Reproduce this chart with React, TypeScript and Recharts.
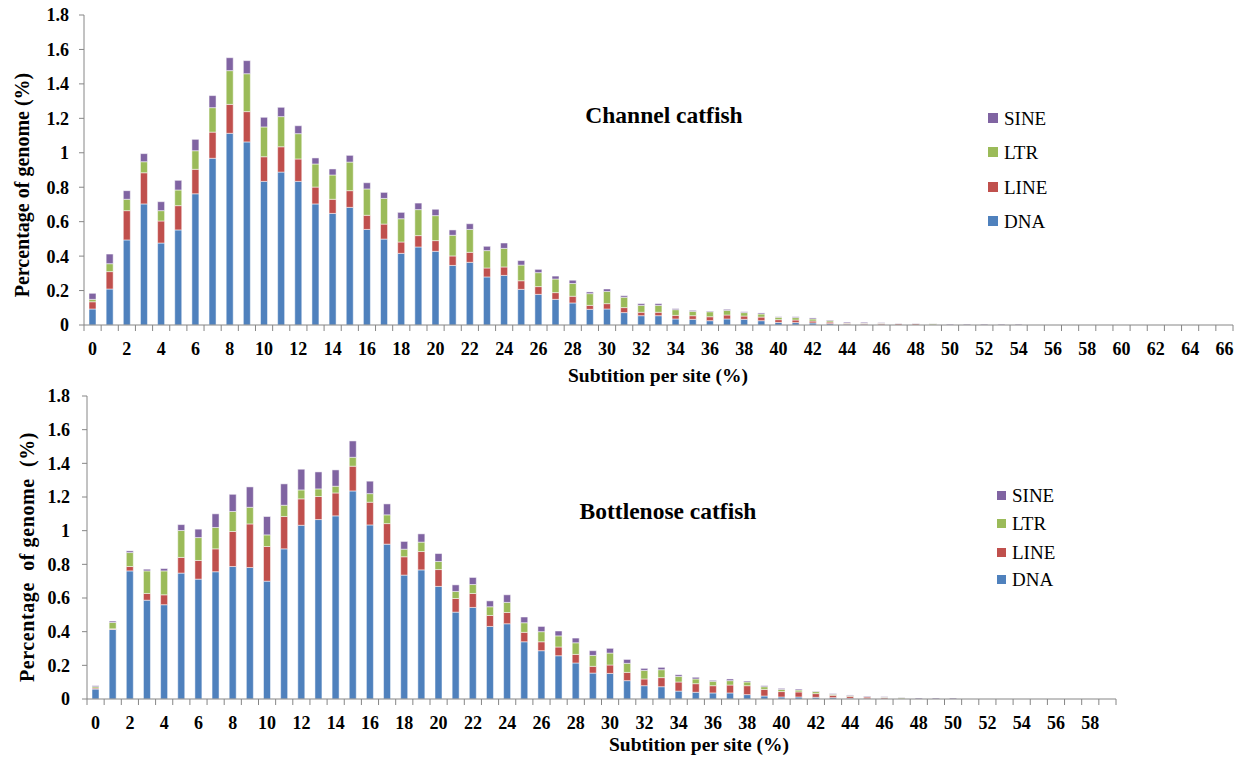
import React from 'react';
import { BarChart, Bar, XAxis, YAxis } from 'recharts';

// ---------- Data ----------
const seriesNames = ['SINE', 'LTR', 'LINE', 'DNA'];
const yTicks = [0, 0.2, 0.4, 0.6, 0.8, 1, 1.2, 1.4, 1.6, 1.8];

// Channel catfish (categories 0..66)
const channelDNA = [
  0.093, 0.209, 0.494, 0.703, 0.476, 0.552, 0.762, 0.968, 1.113, 1.063,
  0.834, 0.888, 0.834, 0.703, 0.648, 0.683, 0.555, 0.499, 0.416, 0.453,
  0.428, 0.346, 0.364, 0.279, 0.288, 0.207, 0.178, 0.149, 0.128, 0.091,
  0.093, 0.072, 0.054, 0.054, 0.035, 0.033, 0.025, 0.035, 0.033, 0.025,
  0.015, 0.014, 0.012, 0.008, 0.004, 0.003, 0.002, 0, 0, 0,
  0, 0, 0, 0, 0, 0, 0, 0, 0, 0, 0, 0, 0, 0, 0, 0, 0,
];
const channelLINE = [
  0.042, 0.101, 0.170, 0.181, 0.128, 0.141, 0.142, 0.152, 0.168, 0.176,
  0.143, 0.147, 0.130, 0.098, 0.082, 0.097, 0.082, 0.087, 0.066, 0.066,
  0.062, 0.055, 0.058, 0.052, 0.049, 0.050, 0.045, 0.039, 0.039, 0.023,
  0.031, 0.029, 0.020, 0.020, 0.021, 0.021, 0.023, 0.023, 0.019, 0.021,
  0.016, 0.015, 0.011, 0.009, 0.006, 0.006, 0.007, 0.007, 0.007, 0.002,
  0, 0, 0, 0, 0, 0, 0, 0, 0, 0, 0, 0, 0, 0, 0, 0, 0,
];
const channelLTR = [
  0.014, 0.046, 0.066, 0.064, 0.060, 0.091, 0.108, 0.142, 0.196, 0.220,
  0.173, 0.175, 0.147, 0.134, 0.141, 0.166, 0.153, 0.149, 0.135, 0.151,
  0.145, 0.120, 0.133, 0.101, 0.108, 0.091, 0.081, 0.079, 0.074, 0.068,
  0.071, 0.060, 0.040, 0.040, 0.033, 0.025, 0.029, 0.027, 0.020, 0.018,
  0.014, 0.014, 0.012, 0.008, 0.002, 0.002, 0.002, 0.001, 0.001, 0.006,
  0, 0, 0, 0, 0, 0, 0, 0, 0, 0, 0, 0, 0, 0, 0, 0, 0,
];
const channelSINE = [
  0.035, 0.056, 0.050, 0.047, 0.052, 0.056, 0.066, 0.070, 0.075, 0.076,
  0.056, 0.054, 0.046, 0.035, 0.035, 0.039, 0.036, 0.035, 0.037, 0.038,
  0.037, 0.031, 0.033, 0.025, 0.031, 0.026, 0.019, 0.017, 0.019, 0.010,
  0.014, 0.009, 0.010, 0.010, 0.006, 0.006, 0.004, 0.006, 0.005, 0.006,
  0.003, 0.005, 0.006, 0.004, 0.005, 0.005, 0.003, 0.002, 0.002, 0.001,
  0.004, 0.004, 0.004, 0.004, 0.004, 0, 0, 0, 0, 0, 0, 0, 0, 0, 0, 0, 0,
];

// Bottlenose catfish (categories 0..59)
const bottleDNA = [
  0.059, 0.413, 0.761, 0.587, 0.560, 0.748, 0.712, 0.756, 0.787, 0.781,
  0.700, 0.892, 1.032, 1.066, 1.088, 1.236, 1.034, 0.920, 0.736, 0.767,
  0.669, 0.516, 0.544, 0.431, 0.447, 0.340, 0.287, 0.257, 0.214, 0.154,
  0.152, 0.109, 0.079, 0.073, 0.047, 0.040, 0.036, 0.036, 0.026, 0.018,
  0.012, 0.012, 0.010, 0.008, 0.004, 0.002, 0.001, 0, 0, 0,
  0, 0, 0, 0, 0, 0, 0, 0, 0, 0,
];
const bottleLINE = [
  0.006, 0.004, 0.026, 0.040, 0.059, 0.093, 0.111, 0.136, 0.208, 0.259,
  0.206, 0.192, 0.157, 0.137, 0.136, 0.147, 0.135, 0.122, 0.109, 0.109,
  0.100, 0.081, 0.083, 0.065, 0.067, 0.056, 0.053, 0.052, 0.051, 0.040,
  0.050, 0.049, 0.040, 0.054, 0.054, 0.051, 0.043, 0.047, 0.053, 0.039,
  0.032, 0.030, 0.022, 0.014, 0.012, 0.010, 0.007, 0.002, 0, 0,
  0, 0, 0, 0, 0, 0, 0, 0, 0, 0,
];
const bottleLTR = [
  0.008, 0.038, 0.083, 0.134, 0.142, 0.160, 0.136, 0.127, 0.119, 0.099,
  0.069, 0.067, 0.053, 0.045, 0.040, 0.053, 0.051, 0.052, 0.045, 0.056,
  0.048, 0.042, 0.053, 0.052, 0.060, 0.057, 0.060, 0.066, 0.069, 0.065,
  0.071, 0.054, 0.051, 0.047, 0.033, 0.028, 0.026, 0.026, 0.022, 0.016,
  0.013, 0.011, 0.012, 0.006, 0.004, 0.002, 0.003, 0.006, 0, 0,
  0, 0, 0, 0, 0, 0, 0, 0, 0, 0,
];
const bottleSINE = [
  0.006, 0.008, 0.010, 0.010, 0.014, 0.035, 0.050, 0.081, 0.102, 0.121,
  0.109, 0.127, 0.123, 0.101, 0.097, 0.097, 0.074, 0.065, 0.046, 0.049,
  0.047, 0.039, 0.042, 0.035, 0.045, 0.034, 0.031, 0.029, 0.028, 0.028,
  0.028, 0.023, 0.012, 0.014, 0.010, 0.010, 0.006, 0.010, 0.006, 0.006,
  0.006, 0.006, 0.003, 0.004, 0.004, 0.004, 0.003, 0.002, 0.005, 0.005,
  0.005, 0, 0, 0, 0, 0, 0, 0, 0, 0,
];

const COLORS: Record<string, string> = {
  DNA: '#4F81BD',
  LINE: '#C0504D',
  LTR: '#9BBB59',
  SINE: '#8064A2',
};

const buildRows = (dna: number[], line: number[], ltr: number[], sine: number[]) =>
  dna.map((v, i) => ({ x: i, DNA: v, LINE: line[i], LTR: ltr[i], SINE: sine[i] }));

const channelRows = buildRows(channelDNA, channelLINE, channelLTR, channelSINE);
const bottleRows = buildRows(bottleDNA, bottleLINE, bottleLTR, bottleSINE);

const FONT = '"Liberation Serif", "Times New Roman", serif';
const AXIS_COLOR = '#868686';

const makeXTick = (band: number, count: number) => (props: any) => {
  const { x, y, payload } = props;
  const v = Number(payload.value);
  const left = x - band / 2;
  return (
    <g>
      <line x1={left} y1={y} x2={left} y2={y + 6} stroke={AXIS_COLOR} strokeWidth={1} />
      {v === count - 1 ? (
        <line x1={x + band / 2} y1={y} x2={x + band / 2} y2={y + 6} stroke={AXIS_COLOR} strokeWidth={1} />
      ) : null}
      {v % 2 === 0 ? (
        <text
          x={x}
          y={y + 24}
          dy="0.35em"
          textAnchor="middle"
          fontFamily={FONT}
          fontWeight="bold"
          fontSize={18}
          fill="#000"
        >
          {v}
        </text>
      ) : null}
    </g>
  );
};

type PanelProps = {
  rows: any[];
  width: number;
  height: number;
  margin: { top: number; right: number; bottom: number; left: number };
  yWidth: number;
  tickMargin: number;
};

const Panel = ({ rows, width, height, margin, yWidth, tickMargin }: PanelProps) => {
  const plotW = width - margin.left - margin.right - yWidth;
  const band = plotW / rows.length;
  return (
    <BarChart width={width} height={height} data={rows} margin={margin} barSize={7}>
      <XAxis
        dataKey="x"
        type="category"
        interval={0}
        tickLine={false}
        tickSize={0}
        tickMargin={0}
        height={50}
        axisLine={{ stroke: AXIS_COLOR }}
        tick={makeXTick(band, rows.length)}
      />
      <YAxis
        width={yWidth}
        domain={[0, 1.8]}
        ticks={yTicks}
        interval={0}
        tickSize={5}
        tickMargin={tickMargin}
        axisLine={{ stroke: AXIS_COLOR }}
        tickLine={{ stroke: AXIS_COLOR }}
        tick={{ fontFamily: FONT, fontWeight: 'bold', fontSize: 18, fill: '#000' }}
      />
      {['DNA', 'LINE', 'LTR', 'SINE'].map((k) => (
        <Bar
          key={k}
          dataKey={k}
          stackId="s"
          fill={COLORS[k]}
          stroke="#ffffff"
          strokeWidth={0.5}
          isAnimationActive={false}
        />
      ))}
    </BarChart>
  );
};

const Legend = ({ left, tops, square, textLeft }: { left: number; tops: number[]; square: number; textLeft: number }) => (
  <>
    {seriesNames.map((n, i) => (
      <React.Fragment key={n}>
        <div
          style={{
            position: 'absolute',
            left,
            top: tops[i] - square / 2,
            width: square,
            height: square,
            background: COLORS[n],
          }}
        />
        <div
          style={{
            position: 'absolute',
            left: textLeft,
            top: tops[i],
            transform: 'translateY(-50%)',
            fontFamily: FONT,
            fontSize: 19,
            lineHeight: 1,
            color: '#000',
            whiteSpace: 'nowrap',
          }}
        >
          {n}
        </div>
      </React.Fragment>
    ))}
  </>
);

const centered = (cx: number, cy: number, size: number, extra: React.CSSProperties = {}): React.CSSProperties => ({
  position: 'absolute',
  left: cx,
  top: cy,
  transform: 'translate(-50%, -50%)',
  fontFamily: FONT,
  fontWeight: 'bold',
  fontSize: size,
  lineHeight: 1,
  color: '#000',
  whiteSpace: 'pre',
  ...extra,
});

export default function App() {
  return (
    <div style={{ position: 'absolute', left: 0, top: 0, width: 1247, height: 763, background: '#fff' }}>
      <div style={{ position: 'absolute', left: 0, top: 0 }}>
        <Panel
          rows={channelRows}
          width={1247}
          height={385}
          margin={{ top: 15, right: 14, bottom: 10, left: 0 }}
          yWidth={84}
          tickMargin={10}
        />
      </div>
      <div style={{ position: 'absolute', left: 0, top: 385 }}>
        <Panel
          rows={bottleRows}
          width={1247}
          height={378}
          margin={{ top: 11, right: 131, bottom: 14, left: 0 }}
          yWidth={87}
          tickMargin={12}
        />
      </div>

      {/* axis titles */}
      <div style={centered(22, 185, 20, { transform: 'translate(-50%, -50%) rotate(-90deg)' })}>
        Percentage of genome (%)
      </div>
      <div
        style={centered(27, 557, 20, {
          transform: 'translate(-50%, -50%) rotate(-90deg)',
          letterSpacing: 0.6,
        })}
      >
        {'Percentage  of genome  (%)'}
      </div>
      <div style={centered(658, 376, 19.5)}>Subtition per site (%)</div>
      <div style={centered(699, 745, 19.5)}>Subtition per site (%)</div>

      {/* chart titles */}
      <div style={centered(664, 116, 23.5)}>Channel catfish</div>
      <div style={centered(668, 512, 23.5)}>Bottlenose catfish</div>

      <Legend left={988} tops={[118, 152, 187, 221]} square={10} textLeft={1004} />
      <Legend left={997} tops={[495, 523, 552, 579]} square={9} textLeft={1012} />
    </div>
  );
}
